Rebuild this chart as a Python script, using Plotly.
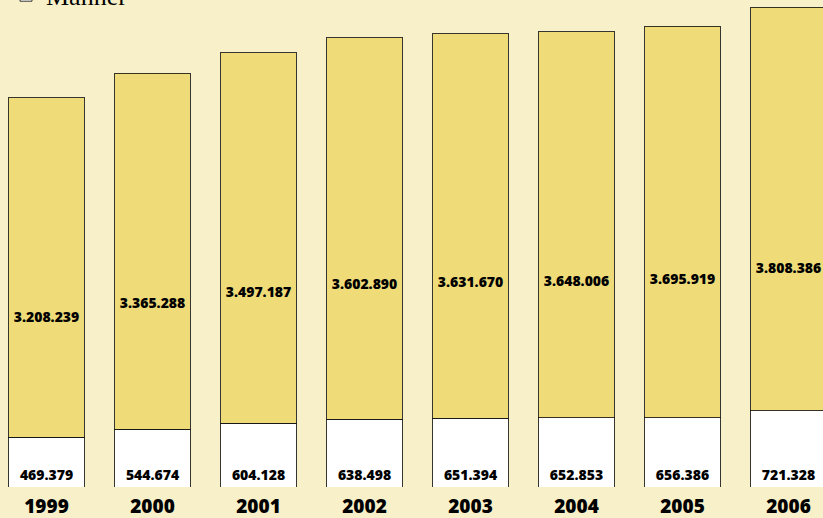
import plotly.graph_objects as go

years = ["1999", "2000", "2001", "2002", "2003", "2004", "2005", "2006"]
maenner = [469379, 544674, 604128, 638498, 651394, 652853, 656386, 721328]
frauen = [3208239, 3365288, 3497187, 3602890, 3631670, 3648006, 3695919, 3808386]


def de(v):
    return f"{v:,}".replace(",", ".")


BG = "#F8F0C8"
YELLOW = "#EFDC78"
LINE = "rgba(20,20,20,0.85)"
LABEL_FONT = dict(family="Open Sans", size=14, color="black", weight=800)

fig = go.Figure()
fig.add_trace(go.Bar(
    x=years, y=maenner, name="Männer",
    marker=dict(color="white", line=dict(color=LINE, width=1)),
    text=[de(v) for v in maenner], textposition="inside",
    insidetextanchor="start", textfont=LABEL_FONT, textangle=0,
    hoverinfo="skip",
))
fig.add_trace(go.Bar(
    x=years, y=frauen, name="Frauen",
    marker=dict(color=YELLOW, line=dict(color=LINE, width=1)),
    hoverinfo="skip",
))
# labels of the women segments, placed in the lower part of each segment
fig.add_trace(go.Scatter(
    x=years, y=[m + 0.35 * f for m, f in zip(maenner, frauen)],
    mode="text", text=[de(v) for v in frauen], textfont=LABEL_FONT,
    textposition="middle center", showlegend=False, hoverinfo="skip",
))

fig.update_layout(
    width=823, height=518,
    paper_bgcolor=BG, plot_bgcolor=BG,
    barmode="stack", bargap=0.292,
    margin=dict(l=0, r=0, t=0, b=31, autoexpand=False),
    showlegend=True,
    legend=dict(
        x=6 / 823, y=1 + 65 / 487, xanchor="left", yanchor="top",
        traceorder="reversed",
        font=dict(family="Liberation Serif", size=26, color="black"),
        bgcolor="rgba(0,0,0,0)",
    ),
    xaxis=dict(
        type="category", range=[-0.4387, 7.3255],
        showgrid=False, zeroline=False, showline=False, ticks="",
        tickfont=dict(family="Open Sans", size=19, color="black", weight=800),
        ticklabelstandoff=6,
        fixedrange=True,
    ),
    yaxis=dict(
        range=[0, 4600000], visible=False, showgrid=False, zeroline=False,
        fixedrange=True,
    ),
)

fig.write_html(
    "out.html",
    config={"displayModeBar": False},
    post_script="document.body.style.margin='0';"
                "document.body.style.background='" + BG + "';",
)
